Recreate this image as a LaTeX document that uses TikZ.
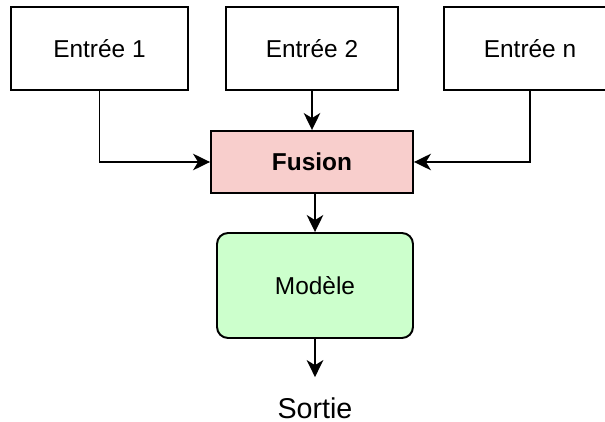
\documentclass[tikz,border=0pt]{standalone}
\usepackage{fontspec}
\setmainfont{Liberation Sans}
\usetikzlibrary{arrows.meta}

\tikzset{
	boite/.style={draw, line width=1.1pt, inner sep=0pt, font=\fontsize{13.9pt}{16pt}\selectfont},
	fleche/.style={-{Stealth[length=0.34cm, width=0.33cm, inset=0.1cm]}, line width=1.1pt}
}

\begin{document}
\begin{tikzpicture}[x=0.02cm, y=-0.02cm]
			\useasboundingbox (0, 0) rectangle (605, 422);
			\clip (0, 0) rectangle (605, 422);

			\node[boite, minimum width=3.54cm, minimum height=1.66cm] (e1) at (99.5, 48.5) {Entrée 1};
			\node[boite, minimum width=3.44cm, minimum height=1.66cm] (e2) at (312, 48.5) {Entrée 2};
			\node[boite, minimum width=3.44cm, minimum height=1.66cm] (en) at (530, 48.5) {Entrée n};

			\node[boite, fill={rgb,255:red,248;green,206;blue,204}, minimum width=4.04cm, minimum height=1.24cm,
				font=\fontsize{13.9pt}{16pt}\selectfont\bfseries] (fusion) at (312, 162) {Fusion};
			\node[boite, fill={rgb,255:red,204;green,255;blue,204}, rounded corners=0.22cm,
				minimum width=3.92cm, minimum height=2.1cm] (modele) at (315, 285.5) {Modèle};
			\node[inner sep=0pt, font=\fontsize{16.3pt}{19pt}\selectfont] (sortie) at (315, 408) {Sortie};

			\draw[fleche] (e1) |- (fusion);
			\draw[fleche] (e2) to (fusion);
			\draw[fleche] (en) |- (fusion);
			\draw[fleche] (fusion.south -| modele.north) to (modele);
			\draw[fleche, shorten >=0.4cm] (modele) to (sortie);
		\end{tikzpicture}
\end{document}
